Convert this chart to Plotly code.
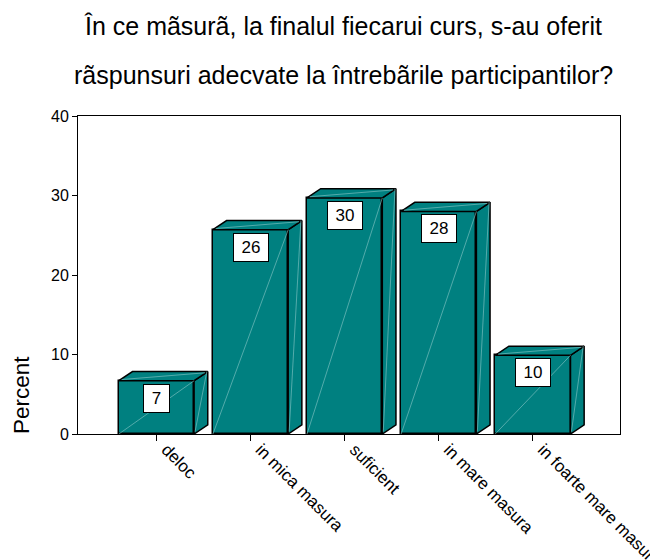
import plotly.graph_objects as go

categories = ["deloc", "in mica masura", "suficient", "in mare masura", "in foarte mare masura"]
percent = [6.7, 25.7, 29.7, 28.0, 9.9]
labels = ["7", "26", "30", "28", "10"]
y_ticks = [0, 10, 20, 30, 40]

FONT = "Liberation Sans, Arial, sans-serif"
TEAL = "#008080"
LIGHT = "#8cc8c8"
BAR_W = 0.80
DX = 0.145   # depth offset in category units
DY = 1.15    # depth offset in percent units

xs = list(range(len(categories)))

fig = go.Figure()

# front faces
fig.add_trace(go.Bar(
    x=xs, y=percent, width=BAR_W,
    marker=dict(color=TEAL, line=dict(color="black", width=1.5)),
    hoverinfo="skip", showlegend=False,
))

for x, v in zip(xs, percent):
    x0, x1 = x - BAR_W / 2, x + BAR_W / 2
    # side face
    fig.add_trace(go.Scatter(
        x=[x1, x1 + DX, x1 + DX, x1, x1], y=[0, DY, v + DY, v, 0],
        mode="lines", fill="toself", fillcolor=TEAL,
        line=dict(color="black", width=1.5), hoverinfo="skip", showlegend=False,
    ))
    # top face
    fig.add_trace(go.Scatter(
        x=[x0, x0 + DX, x1 + DX, x1, x0], y=[v, v + DY, v + DY, v, v],
        mode="lines", fill="toself", fillcolor=TEAL,
        line=dict(color="black", width=1.5), hoverinfo="skip", showlegend=False,
    ))
    # faint highlight lines
    fig.add_trace(go.Scatter(
        x=[x0, x1, None, x1 + 0.01, x1 + DX - 0.01, None, x0 + 0.03, x1 + DX - 0.03],
        y=[0, v, None, 0.3, v + DY, None, v + 0.15, v + DY - 0.15],
        mode="lines", line=dict(color=LIGHT, width=0.6),
        hoverinfo="skip", showlegend=False,
    ))

# value labels
for x, v, t in zip(xs, percent, labels):
    fig.add_annotation(
        x=x, y=v, xref="x", yref="y", text=t, width=8 + 9 * len(t),
        showarrow=False, yanchor="top", yshift=-3,
        bgcolor="white", bordercolor="black", borderwidth=1, borderpad=4,
        font=dict(family=FONT, size=17, color="black"),
    )

# title lines
fig.add_annotation(
    x=0.489, y=1.284, xref="paper", yref="paper",
    text="În ce mãsurã, la finalul fiecarui curs, s-au oferit",
    showarrow=False, xanchor="center", yanchor="middle",
    font=dict(family=FONT, size=25, color="black"),
)
fig.add_annotation(
    x=0.489, y=1.129, xref="paper", yref="paper",
    text="rãspunsuri adecvate la întrebãrile participantilor?",
    showarrow=False, xanchor="center", yanchor="middle",
    font=dict(family=FONT, size=25, color="black"),
)
# y axis title
fig.add_annotation(
    x=-0.105, y=0.1226, xref="paper", yref="paper", text="Percent",
    showarrow=False, textangle=-90, xanchor="center", yanchor="middle",
    font=dict(family=FONT, size=22.5, color="black"),
)

fig.update_layout(
    width=650, height=552,
    margin=dict(l=70, r=38, t=108, b=126, autoexpand=False),
    paper_bgcolor="white", plot_bgcolor="white",
    font=dict(family=FONT, color="black"),
    bargap=0,
    xaxis=dict(
        range=[-0.834, 4.926], tickmode="array", tickvals=xs, ticktext=categories,
        tickangle=45, ticks="outside", ticklen=6, tickcolor="black",
        ticklabelshift=10, ticklabelstandoff=-8, ticklabeloverflow="allow",
        showline=True, linecolor="black", linewidth=1, mirror=True,
        showgrid=False, zeroline=False, fixedrange=True, automargin=False,
        tickfont=dict(family=FONT, size=17, color="black"),
    ),
    yaxis=dict(
        range=[0, 40], tickmode="array", tickvals=y_ticks,
        ticks="outside", ticklen=5, tickcolor="black",
        showline=True, linecolor="black", linewidth=1, mirror=True,
        showgrid=False, zeroline=False, fixedrange=True, automargin=False,
        tickfont=dict(family=FONT, size=16, color="black"),
    ),
)

fig.write_html("out.html", config={"displayModeBar": False})
